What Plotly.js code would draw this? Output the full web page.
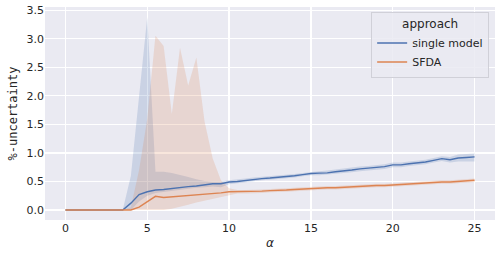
<!DOCTYPE html>
<html>
<head>
<meta charset="utf-8">
<script src="https://cdn.plot.ly/plotly-3.0.1.min.js"></script>
<style>html,body{margin:0;padding:0;background:#fff;}#chart{width:500px;height:255px;}</style>
</head>
<body>
<div id="chart"></div>
<script>
var alpha = [0,0.5,1,1.5,2,2.5,3,3.5,4,4.5,5,5.5,6,6.5,7,7.5,8,8.5,9,9.5,10,10.5,11,11.5,12,12.5,13,13.5,14,14.5,15,15.5,16,16.5,17,17.5,18,18.5,19,19.5,20,20.5,21,21.5,22,22.5,23,23.5,24,24.5,25];

var singleMean = [0,0,0,0,0,0,0,0,0.12,0.27,0.32,0.35,0.36,0.38,0.40,0.41,0.42,0.44,0.46,0.46,0.49,0.50,0.52,0.54,0.55,0.56,0.57,0.58,0.60,0.62,0.64,0.645,0.65,0.67,0.68,0.70,0.72,0.73,0.74,0.76,0.79,0.79,0.81,0.82,0.84,0.87,0.90,0.88,0.91,0.92,0.93];
var singleUpper = [0,0,0,0,0,0,0,0,0.60,1.95,3.38,0.67,0.67,0.65,0.62,0.58,0.54,0.51,0.50,0.50,0.52,0.53,0.55,0.57,0.58,0.59,0.60,0.61,0.63,0.65,0.67,0.68,0.69,0.71,0.72,0.74,0.76,0.77,0.78,0.80,0.83,0.83,0.85,0.86,0.88,0.91,0.94,0.93,0.97,0.98,0.99];
var singleLower = [0,0,0,0,0,0,0,0,0.00,0.15,0.25,0.30,0.32,0.34,0.36,0.37,0.39,0.40,0.41,0.40,0.45,0.47,0.49,0.51,0.52,0.53,0.54,0.55,0.57,0.59,0.61,0.61,0.62,0.63,0.64,0.66,0.68,0.69,0.70,0.72,0.75,0.75,0.77,0.78,0.80,0.83,0.86,0.83,0.85,0.85,0.85];

var sfdaMean = [0,0,0,0,0,0,0,0,0.00,0.05,0.15,0.24,0.22,0.23,0.25,0.26,0.27,0.28,0.29,0.30,0.32,0.32,0.32,0.32,0.33,0.34,0.34,0.35,0.36,0.37,0.38,0.38,0.39,0.39,0.40,0.41,0.41,0.42,0.43,0.43,0.44,0.45,0.45,0.46,0.47,0.48,0.49,0.49,0.50,0.51,0.52];
var sfdaUpper = [0,0,0,0,0,0,0,0,0.05,0.70,1.60,3.05,2.87,1.68,2.84,2.18,2.67,1.55,0.90,0.52,0.38,0.35,0.35,0.35,0.36,0.37,0.37,0.38,0.39,0.40,0.41,0.41,0.42,0.42,0.43,0.44,0.44,0.45,0.46,0.46,0.47,0.48,0.48,0.49,0.50,0.51,0.52,0.52,0.53,0.54,0.55];
var sfdaLower = [0,0,0,0,0,0,0,0,0.00,0.00,0.00,0.00,0.00,0.02,0.05,0.09,0.13,0.16,0.20,0.23,0.26,0.29,0.29,0.29,0.30,0.31,0.31,0.32,0.33,0.34,0.35,0.35,0.36,0.36,0.37,0.38,0.38,0.39,0.40,0.40,0.41,0.42,0.42,0.43,0.44,0.45,0.46,0.46,0.47,0.48,0.49];

var seriesNames = ['single model', 'SFDA'];
var xTicks = [0,5,10,15,20,25];
var yTicks = [0,0.5,1,1.5,2,2.5,3,3.5];
var yTickText = ['0.0','0.5','1.0','1.5','2.0','2.5','3.0','3.5'];

var blue = '#4C72B0', orange = '#DD8452';

function band(lower, upper, fillColor) {
  return [
    {x: alpha, y: lower, mode: 'lines', line: {width: 0}, showlegend: false, hoverinfo: 'skip'},
    {x: alpha, y: upper, mode: 'lines', line: {width: 0}, fill: 'tonexty', fillcolor: fillColor, showlegend: false, hoverinfo: 'skip'}
  ];
}

var traces = []
  .concat(band(singleLower, singleUpper, 'rgba(76,114,176,0.2)'))
  .concat(band(sfdaLower, sfdaUpper, 'rgba(221,132,82,0.2)'))
  .concat([
    {x: alpha, y: singleMean, mode: 'lines', name: seriesNames[0], line: {color: blue, width: 1.4}},
    {x: alpha, y: sfdaMean, mode: 'lines', name: seriesNames[1], line: {color: orange, width: 1.4}}
  ]);

var font = {family: 'DejaVu Sans, sans-serif', size: 11, color: '#262626'};

var layout = {
  width: 500, height: 255,
  margin: {l: 45, r: 5, t: 7, b: 35},
  paper_bgcolor: '#ffffff',
  plot_bgcolor: '#EAEAF2',
  font: font,
  hovermode: false,
  xaxis: {
    range: [-1.25, 26.25],
    tickvals: xTicks,
    showgrid: true, gridcolor: '#ffffff', gridwidth: 1.2,
    zeroline: false, showline: false, ticks: '',
    tickfont: font,
    title: {text: '<i>α</i>', font: {family: 'DejaVu Sans, sans-serif', size: 12, color: '#262626'}, standoff: 4}
  },
  yaxis: {
    range: [-0.175, 3.555],
    tickvals: yTicks, ticktext: yTickText,
    showgrid: true, gridcolor: '#ffffff', gridwidth: 1.2,
    zeroline: false, showline: false, ticks: '',
    tickfont: font,
    title: {text: '%-uncertainty', font: {family: 'DejaVu Sans Mono, monospace', size: 12, color: '#262626'}, standoff: 6}
  },
  legend: {
    x: 0.987, xanchor: 'right', y: 0.977, yanchor: 'top',
    bgcolor: 'rgba(234,234,242,0.85)', bordercolor: '#d0d0d8', borderwidth: 1,
    font: font,
    traceorder: 'normal',
    itemwidth: 30,
    title: {text: 'approach', font: {family: 'DejaVu Sans, sans-serif', size: 12, color: '#262626'}, side: 'top center'},
    tracegroupgap: 0
  }
};

Plotly.newPlot('chart', traces, layout, {displayModeBar: false, staticPlot: true});
</script>
</body>
</html>
